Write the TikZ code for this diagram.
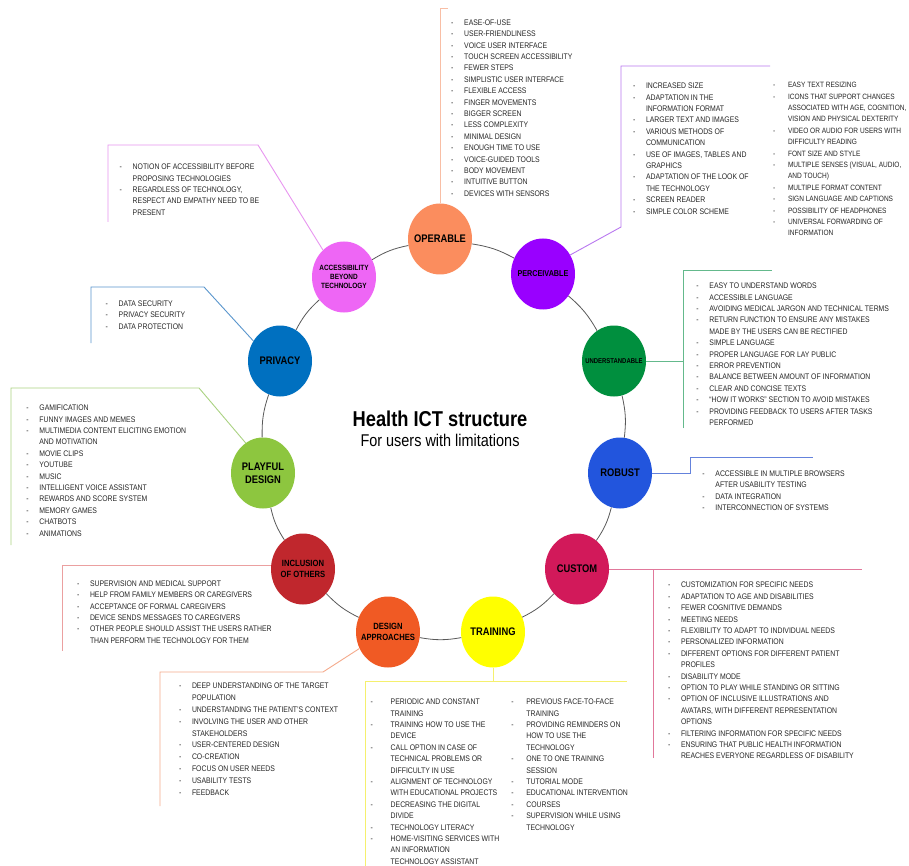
\documentclass[tikz,border=0pt]{standalone}
\usepackage{fontspec}
\setmainfont[FakeStretch=0.85]{Liberation Sans}
\usetikzlibrary{shapes.geometric}
\usetikzlibrary{positioning}

% circle fills
\definecolor{operc}{RGB}{251,141,94}
\definecolor{percc}{RGB}{153,0,255}
\definecolor{undc}{RGB}{0,143,62}
\definecolor{robc}{RGB}{34,85,221}
\definecolor{custc}{RGB}{210,25,90}
\definecolor{trainc}{RGB}{255,255,0}
\definecolor{desc}{RGB}{240,90,36}
\definecolor{inclc}{RGB}{192,39,45}
\definecolor{playc}{RGB}{141,198,63}
\definecolor{privc}{RGB}{0,112,192}
\definecolor{accc}{RGB}{238,102,245}
% frame lines
\definecolor{operl}{RGB}{248,190,165}
\definecolor{percl}{RGB}{185,120,240}
\definecolor{undl}{RGB}{100,185,140}
\definecolor{robl}{RGB}{100,130,220}
\definecolor{custl}{RGB}{225,120,155}
\definecolor{trainl}{RGB}{245,240,110}
\definecolor{desl}{RGB}{245,170,140}
\definecolor{incll}{RGB}{235,160,160}
\definecolor{playl}{RGB}{170,210,130}
\definecolor{privl}{RGB}{90,150,205}
\definecolor{accl}{RGB}{232,150,240}

\newcommand\dl[2][13pt]{\makebox[#1][l]{-}#2}
\newcommand\cl[2][13pt]{\hspace*{#1}#2}
\newcommand\cfs[1]{\fontsize{#1}{\fpeval{1.15*#1}}\selectfont}

\tikzset{
  circ/.style={ellipse, minimum width=64pt, minimum height=71pt, inner sep=0pt, fill=#1},
  lab/.style={font=\bfseries\cfs{#1}, align=center, text=black, inner sep=0pt},
  listtext/.style={font=\fontsize{8.1}{11.4}\selectfont, align=left, inner sep=0pt, anchor=north west, text=black!85},
  ring/.style={draw=black!65, line width=0.8pt},
  fr/.style={draw=#1, line width=0.9pt}
}

\begin{document}
\begin{tikzpicture}[x=1pt,y=-1pt]
\fill[white] (0,0) rectangle (909,866);
\useasboundingbox (0,0) rectangle (909,866);

% circles
\node[circ=operc] (oper) at (440,239) {};
\node[circ=percc] (perc) at (543,274) {};
\node[circ=undc] (und) at (614,361) {};
\node[circ=robc] (rob) at (620,473) {};
\node[circ=custc] (cust) at (577,569) {};
\node[circ=trainc] (train) at (493,632) {};
\node[circ=desc] (design) at (388,632) {};
\node[circ=inclc] (incl) at (303,569) {};
\node[circ=playc] (play) at (263,473) {};
\node[circ=privc] (priv) at (280,361) {};
\node[circ=accc] (access) at (344,277) {};

\node[lab=11] (operlab) at (oper) {OPERABLE};
\node[lab=8.5] (perclab) at (perc) {PERCEIVABLE};
\node[lab=7] (undlab) at (und) {UNDERSTANDABLE};
\node[lab=11] (roblab) at (rob) {ROBUST};
\node[lab=11] (custlab) at (cust) {CUSTOM};
\node[lab=11] (trainlab) at (train) {TRAINING};
\node[lab=9] (deslab) at (design) {DESIGN\\APPROACHES};
\node[lab=9] (incllab) at (incl) {INCLUSION\\OF OTHERS};
\node[lab=11] (playlab) at (play) {PLAYFUL\\DESIGN};
\node[lab=11] (privlab) at (priv) {PRIVACY};
\node[lab=7.6] (acclab) at (access) {ACCESSIBILITY\\BEYOND\\TECHNOLOGY};

% ring
\draw[ring] (oper) to[bend left=10] (perc);
\draw[ring] (perc) to[bend left=10] (und);
\draw[ring] (und) to[bend left=10] (rob);
\draw[ring] (rob) to[bend left=10] (cust);
\draw[ring] (cust) to[bend left=10] (train);
\draw[ring] (train) to[bend left=10] (design);
\draw[ring] (design) to[bend left=10] (incl);
\draw[ring] (incl) to[bend left=10] (play);
\draw[ring] (play) to[bend left=10] (priv);
\draw[ring] (priv) to[bend left=10] (access);
\draw[ring] (access) to[bend left=10] (oper);

% title
\node[font=\bfseries\fontsize{21.5}{24}\selectfont] (title) at (440,419) {Health ICT structure};
\node[font=\fontsize{17}{20}\selectfont, below=0.5pt of title] (subtitle) {For users with limitations};

% frames
\coordinate (opertop) at (440,8);
\draw[fr=operl] (oper.north) -- (opertop) -- ++(8,0);

\coordinate (perccorner) at (621,227);
\coordinate (percend) at (770,66);
\draw[fr=percl] (perc.35) -- (perccorner) |- (percend);

\coordinate (undright) at (772,270);
\coordinate (undend) at (683,428);
\draw[fr=undl] (undend) |- (undright);
\draw[fr=undl] (und.east) -- (und.east -| undend);

\coordinate (robcorner) at (690,457);
\coordinate (robend) at (813,457);
\draw[fr=robl] (rob.east) -| (robcorner) -- (robend);

\coordinate (custright) at (862,569);
\coordinate (custend) at (653,758);
\draw[fr=custl] (cust.east) -- (custright);
\draw[fr=custl] (custend |- cust.east) -- (custend);

\coordinate (trainright) at (627,681);
\coordinate (trainend) at (365,866);
\draw[fr=trainl] (trainend) |- (trainright);
\draw[fr=trainl] (train.south) -- (train.south |- trainright);

\coordinate (descorner) at (323,672);
\coordinate (desend) at (160,806);
\draw[fr=desl] (design.210) -- (descorner) -| (desend);

\coordinate (inclend) at (62,651);
\draw[fr=incll] (incl.174) -| (inclend);

\coordinate (playcorner) at (199,388);
\coordinate (playend) at (11,545);
\draw[fr=playl] (play.120) -- (playcorner) -| (playend);

\coordinate (privcorner) at (204,287);
\coordinate (privend) at (91,343);
\draw[fr=privl] (priv.143) -- (privcorner) -| (privend);

\coordinate (acccorner) at (258,145);
\coordinate (accend) at (108,222);
\draw[fr=accl] (access.128) -- (acccorner) -| (accend);

% lists
\node[listtext] (operlist) at (451,19.4) {\dl{EASE-OF-USE}\\
\dl{USER-FRIENDLINESS}\\
\dl{VOICE USER INTERFACE}\\
\dl{TOUCH SCREEN ACCESSIBILITY}\\
\dl{FEWER STEPS}\\
\dl{SIMPLISTIC USER INTERFACE}\\
\dl{FLEXIBLE ACCESS}\\
\dl{FINGER MOVEMENTS}\\
\dl{BIGGER SCREEN}\\
\dl{LESS COMPLEXITY}\\
\dl{MINIMAL DESIGN}\\
\dl{ENOUGH TIME TO USE}\\
\dl{VOICE-GUIDED TOOLS}\\
\dl{BODY MOVEMENT}\\
\dl{INTUITIVE BUTTON}\\
\dl{DEVICES WITH SENSORS}};

\node[listtext] (perclist) at (632.8,82.8) {\dl{INCREASED SIZE}\\
\dl{ADAPTATION IN THE}\\
\cl{INFORMATION FORMAT}\\
\dl{LARGER TEXT AND IMAGES}\\
\dl{VARIOUS METHODS OF}\\
\cl{COMMUNICATION}\\
\dl{USE OF IMAGES, TABLES AND}\\
\cl{GRAPHICS}\\
\dl{ADAPTATION OF THE LOOK OF}\\
\cl{THE TECHNOLOGY}\\
\dl{SCREEN READER}\\
\dl{SIMPLE COLOR SCHEME}};

\node[listtext, font=\fontsize{7.7}{11.4}\selectfont] (perclisttwo) at (772.8,82.1) {\dl[15pt]{EASY TEXT RESIZING}\\
\dl[15pt]{ICONS THAT SUPPORT CHANGES}\\
\cl[15pt]{ASSOCIATED WITH AGE, COGNITION,}\\
\cl[15pt]{VISION AND PHYSICAL DEXTERITY}\\
\dl[15pt]{VIDEO OR AUDIO FOR USERS WITH}\\
\cl[15pt]{DIFFICULTY READING}\\
\dl[15pt]{FONT SIZE AND STYLE}\\
\dl[15pt]{MULTIPLE SENSES (VISUAL, AUDIO,}\\
\cl[15pt]{AND TOUCH)}\\
\dl[15pt]{MULTIPLE FORMAT CONTENT}\\
\dl[15pt]{SIGN LANGUAGE AND CAPTIONS}\\
\dl[15pt]{POSSIBILITY OF HEADPHONES}\\
\dl[15pt]{UNIVERSAL FORWARDING OF}\\
\cl[15pt]{INFORMATION}};

\node[listtext] (undlist) at (696.2,282.8) {\dl{EASY TO UNDERSTAND WORDS}\\
\dl{ACCESSIBLE LANGUAGE}\\
\dl{AVOIDING MEDICAL JARGON AND TECHNICAL TERMS}\\
\dl{RETURN FUNCTION TO ENSURE ANY MISTAKES}\\
\cl{MADE BY THE USERS CAN BE RECTIFIED}\\
\dl{SIMPLE LANGUAGE}\\
\dl{PROPER LANGUAGE FOR LAY PUBLIC}\\
\dl{ERROR PREVENTION}\\
\dl{BALANCE BETWEEN AMOUNT OF INFORMATION}\\
\dl{CLEAR AND CONCISE TEXTS}\\
\dl{``HOW IT WORKS'' SECTION TO AVOID MISTAKES}\\
\dl{PROVIDING FEEDBACK TO USERS AFTER TASKS}\\
\cl{PERFORMED}};

\node[listtext] (roblist) at (702.2,470.4) {\dl{ACCESSIBLE IN MULTIPLE BROWSERS}\\
\cl{AFTER USABILITY TESTING}\\
\dl{DATA INTEGRATION}\\
\dl{INTERCONNECTION OF SYSTEMS}};

\node[listtext] (custlist) at (667.8,582.1) {\dl{CUSTOMIZATION FOR SPECIFIC NEEDS}\\
\dl{ADAPTATION TO AGE AND DISABILITIES}\\
\dl{FEWER COGNITIVE DEMANDS}\\
\dl{MEETING NEEDS}\\
\dl{FLEXIBILITY TO ADAPT TO INDIVIDUAL NEEDS}\\
\dl{PERSONALIZED INFORMATION}\\
\dl{DIFFERENT OPTIONS FOR DIFFERENT PATIENT}\\
\cl{PROFILES}\\
\dl{DISABILITY MODE}\\
\dl{OPTION TO PLAY WHILE STANDING OR SITTING}\\
\dl{OPTION OF INCLUSIVE ILLUSTRATIONS AND}\\
\cl{AVATARS, WITH DIFFERENT REPRESENTATION}\\
\cl{OPTIONS}\\
\dl{FILTERING INFORMATION FOR SPECIFIC NEEDS}\\
\dl{ENSURING THAT PUBLIC HEALTH INFORMATION}\\
\cl{REACHES EVERYONE REGARDLESS OF DISABILITY}};

\node[listtext] (trainlist) at (370.5,698.8) {\dl[20pt]{PERIODIC AND CONSTANT}\\
\cl[20pt]{TRAINING}\\
\dl[20pt]{TRAINING HOW TO USE THE}\\
\cl[20pt]{DEVICE}\\
\dl[20pt]{CALL OPTION IN CASE OF}\\
\cl[20pt]{TECHNICAL PROBLEMS OR}\\
\cl[20pt]{DIFFICULTY IN USE}\\
\dl[20pt]{ALIGNMENT OF TECHNOLOGY}\\
\cl[20pt]{WITH EDUCATIONAL PROJECTS}\\
\dl[20pt]{DECREASING THE DIGITAL}\\
\cl[20pt]{DIVIDE}\\
\dl[20pt]{TECHNOLOGY LITERACY}\\
\dl[20pt]{HOME-VISITING SERVICES WITH}\\
\cl[20pt]{AN INFORMATION}\\
\cl[20pt]{TECHNOLOGY ASSISTANT}};

\node[listtext] (trainlisttwo) at (511.2,698.8) {\dl[15pt]{PREVIOUS FACE-TO-FACE}\\
\cl[15pt]{TRAINING}\\
\dl[15pt]{PROVIDING REMINDERS ON}\\
\cl[15pt]{HOW TO USE THE}\\
\cl[15pt]{TECHNOLOGY}\\
\dl[15pt]{ONE TO ONE TRAINING}\\
\cl[15pt]{SESSION}\\
\dl[15pt]{TUTORIAL MODE}\\
\dl[15pt]{EDUCATIONAL INTERVENTION}\\
\dl[15pt]{COURSES}\\
\dl[15pt]{SUPERVISION WHILE USING}\\
\cl[15pt]{TECHNOLOGY}};

\node[listtext, font=\fontsize{8.1}{11.8}\selectfont] (deslist) at (178.8,683) {\dl{DEEP UNDERSTANDING OF THE TARGET}\\
\cl{POPULATION}\\
\dl{UNDERSTANDING THE PATIENT'S CONTEXT}\\
\dl{INVOLVING THE USER AND OTHER}\\
\cl{STAKEHOLDERS}\\
\dl{USER-CENTERED DESIGN}\\
\dl{CO-CREATION}\\
\dl{FOCUS ON USER NEEDS}\\
\dl{USABILITY TESTS}\\
\dl{FEEDBACK}};

\node[listtext] (incllist) at (76.8,580.4) {\dl{SUPERVISION AND MEDICAL SUPPORT}\\
\dl{HELP FROM FAMILY MEMBERS OR CAREGIVERS}\\
\dl{ACCEPTANCE OF FORMAL CAREGIVERS}\\
\dl{DEVICE SENDS MESSAGES TO CAREGIVERS}\\
\dl{OTHER PEOPLE SHOULD ASSIST THE USERS RATHER}\\
\cl{THAN PERFORM THE TECHNOLOGY FOR THEM}};

\node[listtext] (playlist) at (26.2,404.8) {\dl{GAMIFICATION}\\
\dl{FUNNY IMAGES AND MEMES}\\
\dl{MULTIMEDIA CONTENT ELICITING EMOTION}\\
\cl{AND MOTIVATION}\\
\dl{MOVIE CLIPS}\\
\dl{YOUTUBE}\\
\dl{MUSIC}\\
\dl{INTELLIGENT VOICE ASSISTANT}\\
\dl{REWARDS AND SCORE SYSTEM}\\
\dl{MEMORY GAMES}\\
\dl{CHATBOTS}\\
\dl{ANIMATIONS}};

\node[listtext] (privlist) at (105.5,300.4) {\dl{DATA SECURITY}\\
\dl{PRIVACY SECURITY}\\
\dl{DATA PROTECTION}};

\node[listtext] (acclist) at (119.5,163.8) {\dl{NOTION OF ACCESSIBILITY BEFORE}\\
\cl{PROPOSING TECHNOLOGIES}\\
\dl{REGARDLESS OF TECHNOLOGY,}\\
\cl{RESPECT AND EMPATHY NEED TO BE}\\
\cl{PRESENT}};
\end{tikzpicture}
\end{document}
